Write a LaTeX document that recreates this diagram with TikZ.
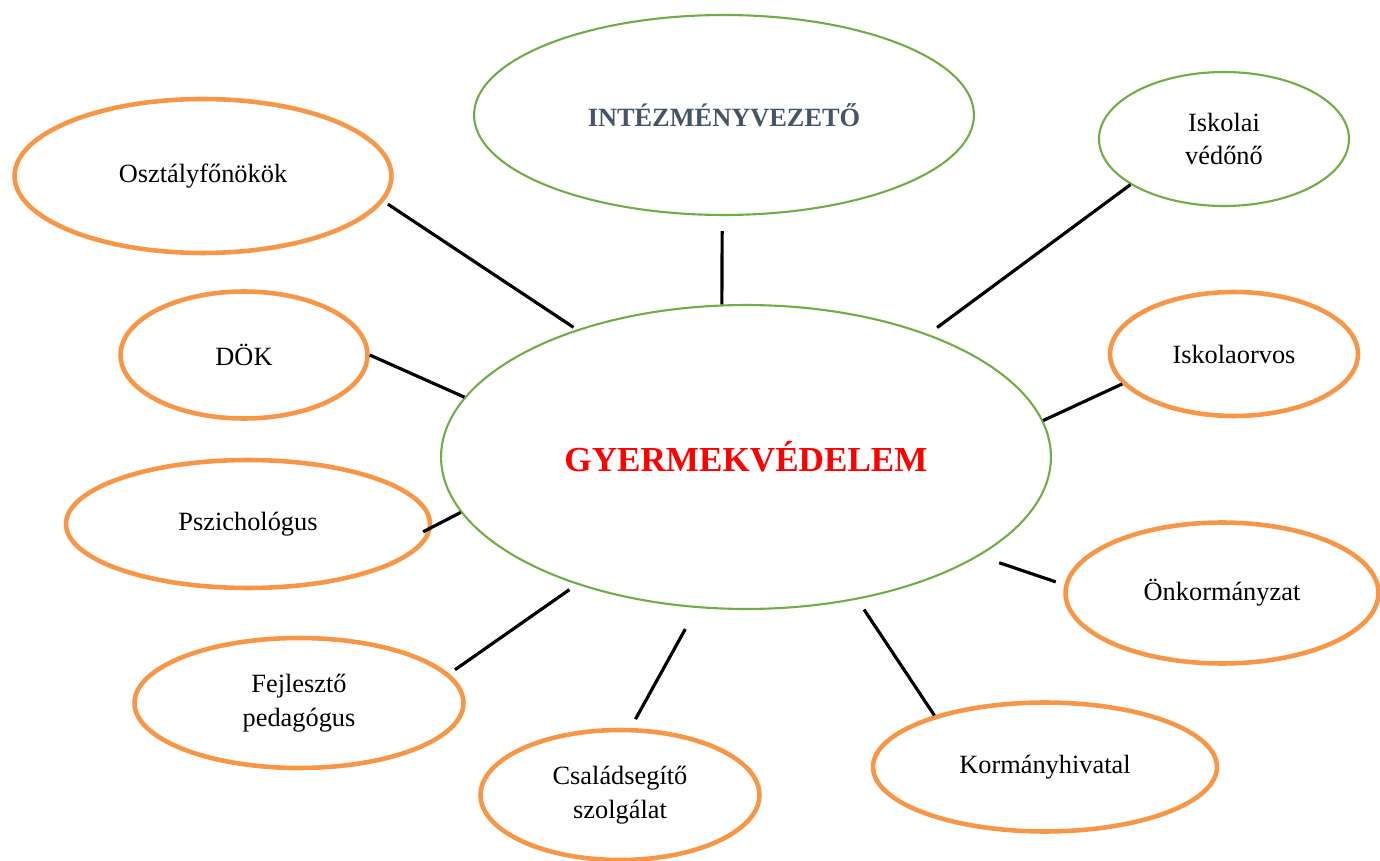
\documentclass[tikz,border=0pt]{standalone}
\usepackage{fontspec}
\setmainfont{Liberation Serif}
\usetikzlibrary{shapes.geometric}
\definecolor{ovorange}{HTML}{F79646}
\definecolor{ovgreen}{HTML}{70AD47}
\definecolor{headblue}{HTML}{44546A}

\begin{document}
\begin{tikzpicture}[x=0.02cm, y=-0.02cm,
  bubble/.style={ellipse, inner sep=0pt, align=center, fill=white,
    font=\fontsize{15}{19}\selectfont},
  greenbub/.style={bubble, draw=ovgreen, line width=1.2pt},
  orangebub/.style={bubble, draw=ovorange, line width=2.6pt},
  link/.style={line width=1.8pt, black}]

\useasboundingbox (0,0) rectangle (1380,861);

% kozepso ellipszis
\node [greenbub, minimum width=12.2cm, minimum height=6.08cm, text=red,
  font=\fontsize{20}{24}\selectfont\bfseries] (gyv) at (746,457) {GYERMEKVÉDELEM};

\node [greenbub, minimum width=10cm, minimum height=4cm, text=headblue,
  font=\fontsize{15}{19}\selectfont\bfseries] (vezeto) at (724,115) {INTÉZMÉNYVEZETŐ};
\node [greenbub, minimum width=5cm, minimum height=2.68cm] (vedono) at (1224,139) {Iskolai\\védőnő};

\node [orangebub, minimum width=7.54cm, minimum height=3.08cm] (ofonok) at (203,176) {Osztályfőnökök};
\node [orangebub, minimum width=4.94cm, minimum height=2.54cm] (dok) at (244,355) {DÖK};
\node [orangebub, minimum width=4.96cm, minimum height=2.48cm] (orvos) at (1234,354) {Iskolaorvos};
\node [orangebub, minimum width=7.28cm, minimum height=2.56cm] (pszi) at (248,524) {Pszichológus};
\node [orangebub, minimum width=6.26cm, minimum height=2.82cm] (onkorm) at (1222,593) {Önkormányzat};
\node [orangebub, minimum width=6.58cm, minimum height=2.6cm] (fejl) at (299,703) {Fejlesztő\\pedagógus};
\node [orangebub, minimum width=5.58cm, minimum height=2.6cm] (csalad) at (620,795) {Családsegítő\\szolgálat};
\node [orangebub, minimum width=6.88cm, minimum height=2.58cm] (kormh) at (1045,767) {Kormányhivatal};

% vonalak
\draw [link, shorten <=0.08cm, shorten >=0.1cm] (gyv.143.3) -- (ofonok.-8.7);
\draw [link, shorten >=0.3cm] (gyv.99.3) -- (vezeto.-91.5);
\draw [link, shorten <=0.22cm] (gyv.34.5) -- (vedono.-154.7);
\draw [link] (gyv.168.1) -- (dok.0);
\draw [link] (gyv.7.8) -- (orvos.-165.6);
\draw [link, shorten >=-0.2cm] (gyv.191.7) -- (pszi.-1);
\draw [link, shorten <=0.42cm, shorten >=0.18cm] (gyv.-23.7) -- (onkorm.177.3);
\draw [link, shorten <=0.18cm, shorten >=0.14cm] (gyv.217.6) -- (fejl.11.2);
\draw [link, shorten <=0.48cm, shorten >=0.2cm] (gyv.-108.2) -- (csalad.81.1);
\draw [link, shorten <=0.24cm] (gyv.-52) -- (kormh.155.7);

\end{tikzpicture}
\end{document}
